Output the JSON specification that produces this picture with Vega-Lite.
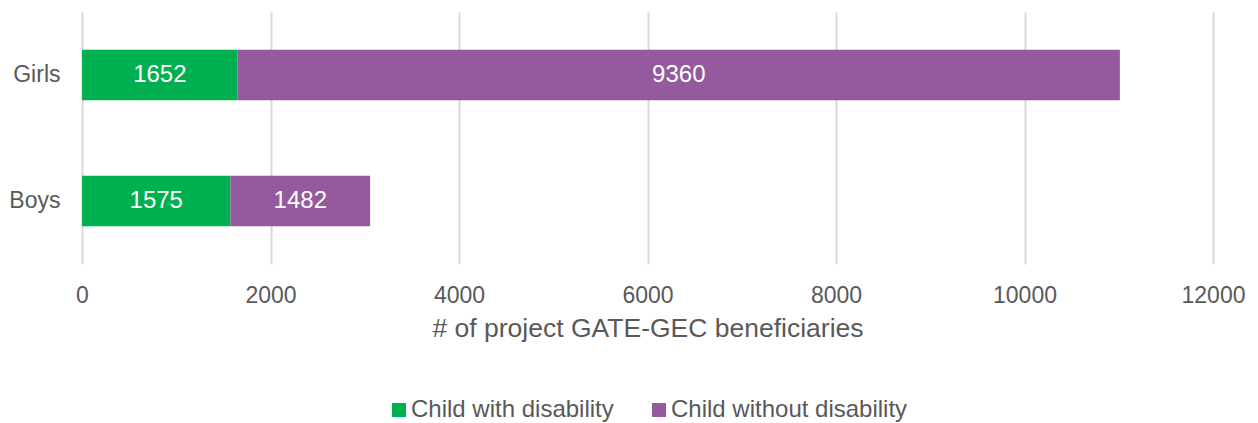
{
  "$schema": "https://vega.github.io/schema/vega-lite/v6.json",
  "width": 1131,
  "height": 252,
  "autosize": {"type": "none"},
  "padding": {"left": 82, "top": 12, "right": 45, "bottom": 159},
  "background": "white",
  "config": {
    "view": {"stroke": null},
    "font": "Liberation Sans",
    "axis": {"labelFont": "Liberation Sans", "titleFont": "Liberation Sans", "labelColor": "#595959", "titleColor": "#595959"},
    "legend": {"labelFont": "Liberation Sans", "labelColor": "#595959"}
  },
  "data": {
    "values": [
      {"group": "Girls", "category": "Child with disability", "value": 1652},
      {"group": "Girls", "category": "Child without disability", "value": 9360},
      {"group": "Boys", "category": "Child with disability", "value": 1575},
      {"group": "Boys", "category": "Child without disability", "value": 1482}
    ]
  },
  "encoding": {
    "y": {
      "field": "group", "type": "nominal", "sort": ["Girls", "Boys"],
      "scale": {"paddingInner": 0.6, "paddingOuter": 0.3},
      "axis": {"title": null, "domain": false, "ticks": false, "labelFontSize": 23, "labelPadding": 22}
    }
  },
  "layer": [
    {
      "mark": {"type": "bar"},
      "encoding": {
        "x": {
          "field": "value", "type": "quantitative", "stack": "zero",
          "scale": {"domain": [0, 12000], "nice": false},
          "axis": {"values": [0, 2000, 4000, 6000, 8000, 10000, 12000], "format": "d", "labelFlush": false, "title": "# of project GATE-GEC beneficiaries", "titleFontSize": 26.5, "titleFontWeight": "normal", "titlePadding": 8, "labelFontSize": 23, "labelPadding": 20, "domain": false, "ticks": false, "gridColor": "#d9d9d9", "gridWidth": 2}
        },
        "color": {
          "field": "category", "type": "nominal",
          "scale": {"domain": ["Child with disability", "Child without disability"], "range": ["#00B050", "#955A9D"]},
          "legend": {"title": null, "orient": "none", "legendX": 305, "legendY": 386, "direction": "horizontal", "symbolType": "square", "symbolSize": 196, "symbolStrokeWidth": 0, "labelFontSize": 24, "labelLimit": 400, "columnPadding": 33, "labelOffset": 0}
        },
        "order": {"field": "category", "sort": "ascending"}
      }
    },
    {
      "mark": {"type": "text", "color": "white", "fontSize": 24, "baseline": "middle", "align": "center"},
      "encoding": {
        "x": {"field": "value", "type": "quantitative", "stack": "zero", "bandPosition": 0.5},
        "detail": {"field": "category"},
        "text": {"field": "value", "type": "quantitative", "format": "d"},
        "order": {"field": "category", "sort": "ascending"}
      }
    }
  ]
}
